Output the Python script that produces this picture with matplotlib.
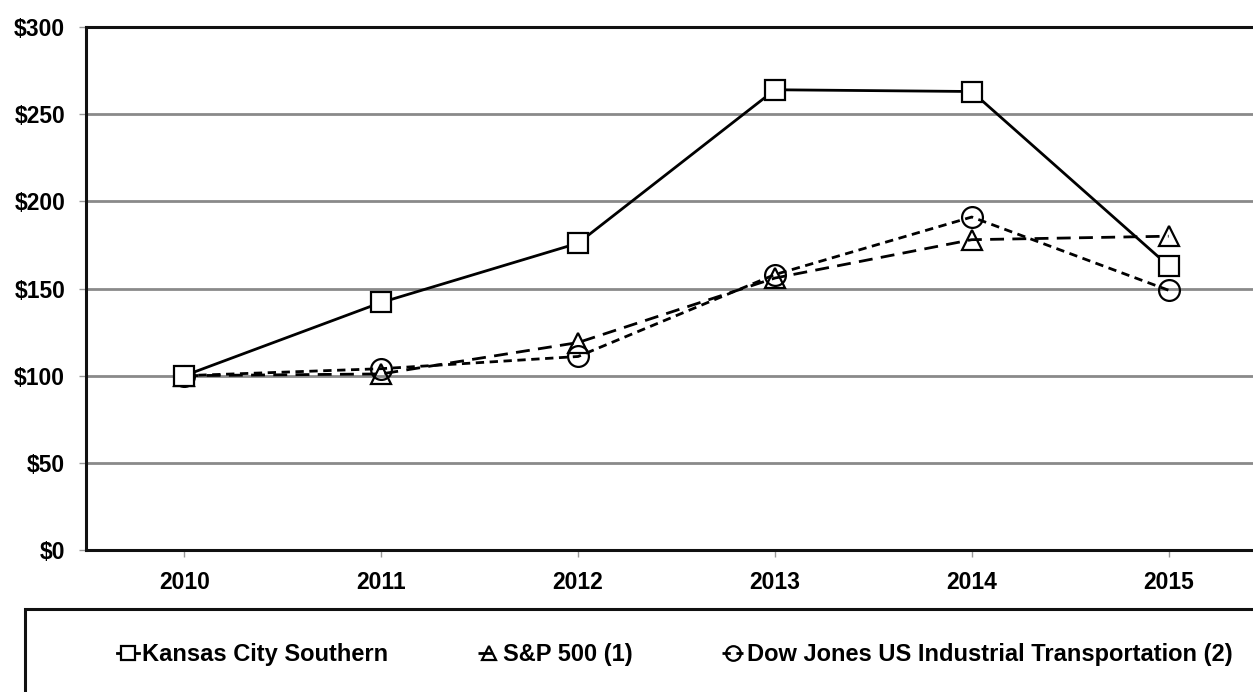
import matplotlib.pyplot as plt
from matplotlib.patches import Rectangle

years = [2010, 2011, 2012, 2013, 2014, 2015]
kcs = [100, 142, 176, 264, 263, 163]
sp500 = [100, 101, 119, 156, 178, 180]
dowjones = [100, 104, 111, 158, 191, 149]
yticks = [0, 50, 100, 150, 200, 250, 300]

plt.rcParams['font.family'] = ['Liberation Sans', 'DejaVu Sans']

fig = plt.figure(figsize=(12.53, 6.92), dpi=100)
ax = fig.add_axes([86 / 1253, 142 / 692, 1181 / 1253, 523 / 692])

ax.plot(years, kcs, c='black', lw=2, marker='s', ms=14, mfc='white', mec='black', mew=1.6,
        label='Kansas City Southern', zorder=4)
ax.plot(years, sp500, c='black', lw=2, ls=(0, (5, 3)), marker='^', ms=15, mfc='none', mec='black', mew=1.6,
        label='S&P 500 (1)', zorder=3)
ax.plot(years, dowjones, c='black', lw=2, ls=(0, (3, 2)), marker='o', ms=15, mfc='none', mec='black', mew=1.6,
        label='Dow Jones US Industrial Transportation (2)', zorder=3)

ax.set_xlim(2009.5, 2015.5)
ax.set_ylim(0, 300)
ax.set_xticks(years)
ax.set_xticklabels([str(y) for y in years], fontsize=16.5, fontweight='bold')
ax.set_yticks(yticks)
ax.set_yticklabels(['$' + str(v) for v in yticks], fontsize=16.5, fontweight='bold')
ax.yaxis.grid(True, color='#8a8a8a', lw=2)
ax.set_axisbelow(True)
ax.tick_params(axis='both', length=5, color='#999999', width=1)
ax.tick_params(axis='x', pad=10)
ax.tick_params(axis='y', pad=10)
for s in ['left', 'bottom', 'top']:
    ax.spines[s].set_linewidth(2.2)
    ax.spines[s].set_color('#111111')
ax.spines['right'].set_visible(False)

# legend box, cut off by the figure edge at right and bottom
fig.patches.append(Rectangle((25 / 1253, -0.1), 1.2, (692 - 609) / 692 + 0.1,
                             transform=fig.transFigure, fill=False, ec='#111111', lw=2.2))

handles, labels = ax.get_legend_handles_labels()
leg = fig.legend(handles, labels, ncol=3, loc='center', bbox_to_anchor=(675 / 1253, (692 - 655) / 692),
                 frameon=False, handlelength=0.9, handletextpad=0.15, columnspacing=3.8,
                 prop={'size': 17, 'weight': 'bold'}, markerscale=0.7)

fig.savefig('out.png', dpi=100)
